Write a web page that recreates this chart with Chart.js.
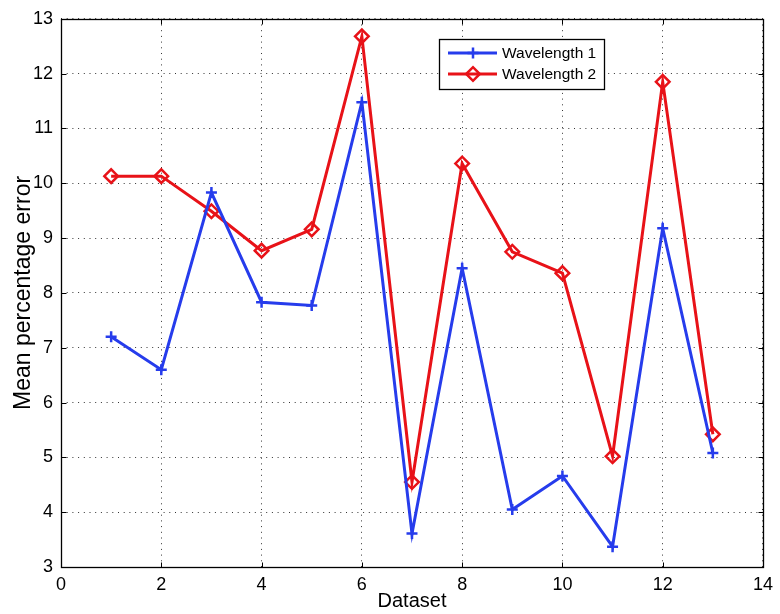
<!DOCTYPE html>
<html>
<head>
<meta charset="utf-8">
<script src="https://cdn.jsdelivr.net/npm/chart.js@4/dist/chart.umd.min.js"></script>
<style>
  html, body { margin: 0; padding: 0; background: #fff; }
  #wrap { width: 780px; height: 614px; }
</style>
</head>
<body>
<div id="wrap"><canvas id="c" width="780" height="614"></canvas></div>
<script>
// ---- data ----
const datasetIds   = [1, 2, 3, 4, 5, 6, 7, 8, 9, 10, 11, 12, 13];
const wavelength1  = [7.20, 6.60, 9.83, 7.83, 7.77, 11.48, 3.61, 8.45, 4.05, 4.66, 3.37, 9.18, 5.08];
const wavelength2  = [10.13, 10.13, 9.49, 8.77, 9.16, 12.68, 4.55, 10.36, 8.75, 8.36, 5.02, 11.85, 5.42];
const seriesNames  = ['Wavelength 1', 'Wavelength 2'];
const xTickValues  = [0, 2, 4, 6, 8, 10, 12, 14];
const yTickValues  = [3, 4, 5, 6, 7, 8, 9, 10, 11, 12, 13];
const xAxisTitle   = 'Dataset';
const yAxisTitle   = 'Mean percentage error';

const BLUE = 'rgb(38,60,236)';
const RED  = 'rgb(232,18,24)';
const FONT = '"Liberation Sans", Arial, Helvetica, sans-serif';

function toPoints(xs, ys) { return xs.map((x, i) => ({ x: x, y: ys[i] })); }

// frame with inward ticks on all four sides
const framePlugin = {
  id: 'frame',
  afterDatasetsDraw(chart) {
    const { ctx, chartArea: a, scales } = chart;
    ctx.save();
    ctx.strokeStyle = '#000';
    ctx.lineWidth = 1;
    ctx.setLineDash([]);
    const L = Math.round(a.left) + 0.5, R = Math.round(a.right) + 0.5;
    const T = Math.round(a.top) + 0.5, B = Math.round(a.bottom) + 0.5;
    const tl = 5;
    ctx.beginPath();
    xTickValues.forEach(v => {
      const px = Math.round(scales.x.getPixelForValue(v)) + 0.5;
      ctx.moveTo(px, B); ctx.lineTo(px, B - tl);
      ctx.moveTo(px, T); ctx.lineTo(px, T + tl);
    });
    yTickValues.forEach(v => {
      const py = Math.round(scales.y.getPixelForValue(v)) + 0.5;
      ctx.moveTo(L, py); ctx.lineTo(L + tl, py);
      ctx.moveTo(R, py); ctx.lineTo(R - tl, py);
    });
    ctx.stroke();
    ctx.lineWidth = 1.3;
    ctx.strokeRect(L, T, R - L, B - T);
    ctx.restore();
  }
};

// MATLAB-style legend box inside the axes
const legendPlugin = {
  id: 'insideLegend',
  afterDraw(chart) {
    const { ctx } = chart;
    const box = { x: 439.5, y: 39.5, w: 165, h: 50 };
    ctx.save();
    ctx.fillStyle = '#fff';
    ctx.fillRect(box.x, box.y, box.w, box.h);
    ctx.strokeStyle = '#000';
    ctx.lineWidth = 1.3;
    ctx.setLineDash([]);
    ctx.strokeRect(box.x, box.y, box.w, box.h);
    const rowsY = [53, 74];
    chart.data.datasets.forEach((ds, i) => {
      const y = rowsY[i];
      ctx.strokeStyle = ds.borderColor;
      ctx.lineWidth = ds.borderWidth;
      ctx.beginPath();
      ctx.moveTo(448, y); ctx.lineTo(497, y);
      ctx.stroke();
      ctx.fillStyle = 'rgba(0,0,0,0)';
      ctx.strokeStyle = ds.pointBorderColor;
      ctx.lineWidth = ds.pointBorderWidth;
      Chart.helpers.drawPoint(ctx, {
        pointStyle: ds.pointStyle,
        radius: ds.pointRadius,
        borderWidth: ds.pointBorderWidth,
        rotation: 0
      }, 473, y);
      ctx.fillStyle = '#000';
      ctx.font = '15.5px ' + FONT;
      ctx.textBaseline = 'middle';
      ctx.textAlign = 'left';
      ctx.fillText(ds.label, 502, y + 1);
    });
    ctx.restore();
  }
};

new Chart(document.getElementById('c'), {
  type: 'line',
  data: {
    datasets: [
      {
        label: seriesNames[0],
        data: toPoints(datasetIds, wavelength1),
        borderColor: BLUE,
        backgroundColor: 'rgba(0,0,0,0)',
        borderWidth: 3,
        pointStyle: 'cross',
        pointRadius: 5.5,
        pointBorderWidth: 2.5,
        pointBorderColor: BLUE,
        pointBackgroundColor: BLUE,
        tension: 0
      },
      {
        label: seriesNames[1],
        data: toPoints(datasetIds, wavelength2),
        borderColor: RED,
        backgroundColor: 'rgba(0,0,0,0)',
        borderWidth: 3,
        pointStyle: 'rectRot',
        pointRadius: 6.8,
        pointBorderWidth: 2.5,
        pointBorderColor: RED,
        pointBackgroundColor: 'rgba(255,255,255,0)',
        tension: 0
      }
    ]
  },
  options: {
    responsive: false,
    animation: false,
    devicePixelRatio: 1,
    layout: { padding: { left: 0, right: 14, top: 13, bottom: 0 } },
    plugins: {
      legend: { display: false },
      tooltip: { enabled: false },
      title: { display: false }
    },
    scales: {
      x: {
        type: 'linear',
        min: 0, max: 14,
        afterBuildTicks(scale) { scale.ticks = xTickValues.map(v => ({ value: v })); },
        afterFit(scale) { scale.height = 47; },
        ticks: { color: '#000', font: { family: FONT, size: 18 }, padding: 7, maxRotation: 0 },
        grid: { color: 'rgba(0,0,0,0.8)', lineWidth: 1, drawTicks: false },
        border: { display: false, dash: [1, 4.7] },
        title: { display: true, text: xAxisTitle, color: '#000', font: { family: FONT, size: 20, lineHeight: 1.2 }, padding: { top: 0, bottom: 1 } }
      },
      y: {
        type: 'linear',
        min: 3, max: 13,
        afterBuildTicks(scale) { scale.ticks = yTickValues.map(v => ({ value: v })); },
        afterFit(scale) { scale.width = 61; },
        ticks: { color: '#000', font: { family: FONT, size: 18 }, padding: 8 },
        grid: { color: 'rgba(0,0,0,0.8)', lineWidth: 1, drawTicks: false },
        border: { display: false, dash: [1, 4.7] },
        title: { display: true, text: yAxisTitle, color: '#000', font: { family: FONT, size: 23, lineHeight: 1.2 }, padding: { top: 10, bottom: 0 } }
      }
    }
  },
  plugins: [framePlugin, legendPlugin]
});
</script>
</body>
</html>
